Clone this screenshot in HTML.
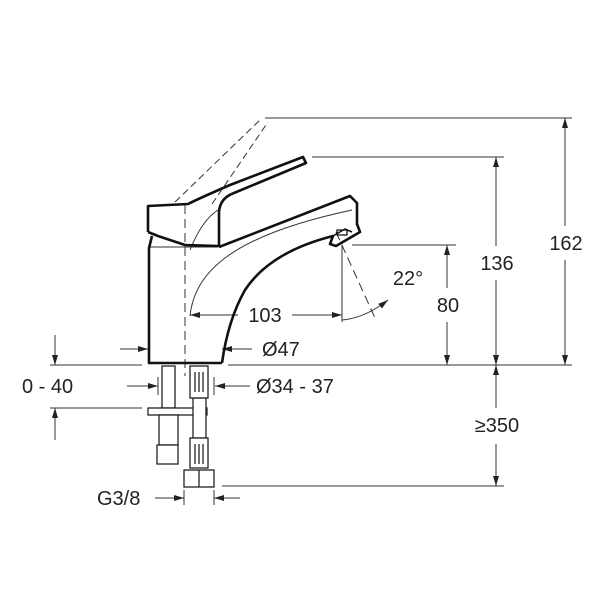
<!DOCTYPE html>
<html><head><style>html,body{margin:0;padding:0;background:#fff}svg{display:block}text{font-family:"Liberation Sans",sans-serif;font-size:20px;fill:#222}</style></head>
<body>
<svg width="600" height="599" viewBox="0 0 600 599" xmlns="http://www.w3.org/2000/svg">
<defs>
<marker id="a" viewBox="0 0 10 6" refX="10" refY="3" markerWidth="10" markerHeight="6" orient="auto-start-reverse" markerUnits="userSpaceOnUse"><path d="M0,0L10,3L0,6z" fill="#222"/></marker>
</defs>
<g stroke="#333" stroke-width="1" fill="none">
<line x1="265" y1="118" x2="572" y2="118"/>
<line x1="312" y1="157" x2="504" y2="157"/>
<line x1="352" y1="245" x2="456" y2="245"/>
<line x1="50" y1="365" x2="142" y2="365"/>
<line x1="228" y1="365" x2="572" y2="365"/>
<line x1="50" y1="408" x2="142" y2="408"/>
<line x1="222" y1="486" x2="504" y2="486"/>
<line x1="565" y1="118" x2="565" y2="226" marker-start="url(#a)"/>
<line x1="565" y1="260" x2="565" y2="365" marker-end="url(#a)"/>
<line x1="496" y1="157" x2="496" y2="246" marker-start="url(#a)"/>
<line x1="496" y1="280" x2="496" y2="365" marker-end="url(#a)"/>
<line x1="447" y1="245" x2="447" y2="288" marker-start="url(#a)"/>
<line x1="447" y1="322" x2="447" y2="365" marker-end="url(#a)"/>
<line x1="496" y1="365" x2="496" y2="408" marker-start="url(#a)"/>
<line x1="496" y1="444" x2="496" y2="486" marker-end="url(#a)"/>
<line x1="55" y1="335" x2="55" y2="365" marker-end="url(#a)"/>
<line x1="55" y1="440" x2="55" y2="408" marker-end="url(#a)"/>
<line x1="238" y1="315" x2="190" y2="315" marker-end="url(#a)"/>
<line x1="292" y1="315" x2="342" y2="315" marker-end="url(#a)"/>
<line x1="120" y1="349" x2="148" y2="349" marker-end="url(#a)"/>
<line x1="252" y1="349" x2="222" y2="349" marker-end="url(#a)"/>
<line x1="127" y1="386" x2="158" y2="386" marker-end="url(#a)"/>
<line x1="250" y1="386" x2="215" y2="386" marker-end="url(#a)"/>
<line x1="158" y1="377" x2="158" y2="395"/>
<line x1="214" y1="377" x2="214" y2="395"/>
<line x1="155" y1="498" x2="184" y2="498" marker-end="url(#a)"/>
<line x1="240" y1="498" x2="214" y2="498" marker-end="url(#a)"/>
<line x1="184" y1="490" x2="184" y2="505"/>
<line x1="214" y1="490" x2="214" y2="505"/>
<line x1="342" y1="245" x2="342" y2="322"/>
<line x1="336" y1="232" x2="375" y2="318" stroke-dasharray="9,5"/>
<path d="M342,320 Q365,318 388,300" marker-end="url(#a)"/>
<line x1="185" y1="205" x2="185" y2="376" stroke-dasharray="9,5"/>
<line x1="175" y1="202" x2="262" y2="118" stroke-dasharray="7,4"/>
<line x1="212" y1="204" x2="268" y2="122" stroke-dasharray="7,4"/>
<path d="M190,316 C195,270 235,235 352,210" />
<path d="M190,250 C200,225 210,215 218,210"/>
<line x1="148" y1="247" x2="218" y2="247"/>
</g>
<g stroke="#111" stroke-width="2.6" fill="none" stroke-linejoin="round">
<path d="M148,232 L148,206 L188,204 Q200,198 230,185 L303,157 L306,163 L234,193 Q220,198 219,212 L219,246"/>
<path d="M148,232 L158,236 L185,245 L219,246"/>
<path d="M219,247 L350,196 L357,203 L357,224 L360,232 L336,246 L330,244 L333,236 Q270,252 245,290 Q228,320 222,363"/>
<path d="M333,236 L345,229 L352,232" stroke-width="1.5"/>
<rect x="337" y="230" width="10" height="5" stroke-width="1.3"/>
<path d="M152,236 L149,248 L149,363 L222,363"/>
</g>
<g stroke="#222" stroke-width="1.3" fill="#fff">
<rect x="162" y="366" width="13" height="42"/>
<rect x="148" y="408" width="59" height="7"/>
<rect x="159" y="415" width="19" height="30"/>
<rect x="157" y="445" width="21" height="19"/>
<rect x="193" y="398" width="13" height="40"/>
<rect x="190" y="366" width="18" height="32"/>
<rect x="190" y="438" width="18" height="30"/>
<rect x="184" y="470" width="30" height="17"/>
<line x1="199" y1="470" x2="199" y2="487"/>
<line x1="195" y1="372" x2="195" y2="392"/><line x1="199" y1="372" x2="199" y2="392"/><line x1="203" y1="372" x2="203" y2="392"/>
<line x1="195" y1="444" x2="195" y2="464"/><line x1="199" y1="444" x2="199" y2="464"/><line x1="203" y1="444" x2="203" y2="464"/>
</g>
<text x="566" y="250" text-anchor="middle">162</text>
<text x="497" y="270" text-anchor="middle">136</text>
<text x="448" y="312" text-anchor="middle">80</text>
<text x="408" y="285" text-anchor="middle">22°</text>
<text x="265" y="322" text-anchor="middle">103</text>
<text x="262" y="356">Ø47</text>
<text x="256" y="393">Ø34 - 37</text>
<text x="22" y="393">0 - 40</text>
<text x="497" y="432" text-anchor="middle">≥350</text>
<text x="97" y="505">G3/8</text>
</svg>
</body></html>
